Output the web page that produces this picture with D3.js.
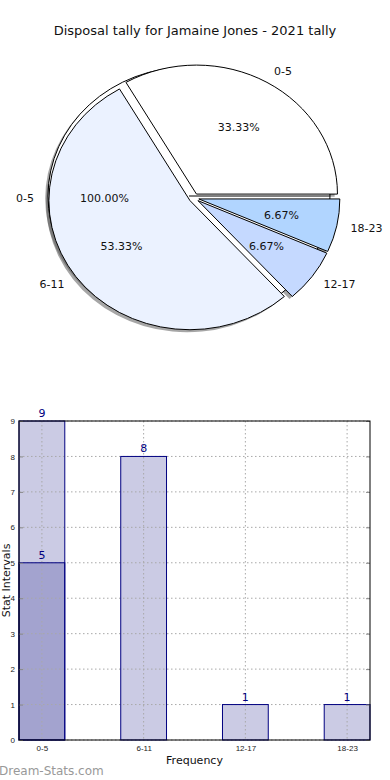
<!DOCTYPE html>
<html><head><meta charset="utf-8">
<script src="https://cdn.jsdelivr.net/npm/d3@7"></script>
<style>body{margin:0;background:#fff}svg{display:block;font-family:"DejaVu Sans",sans-serif}</style>
</head><body><div id="c"></div>
<script>
// ---- data ----
const title = "Disposal tally for Jamaine Jones - 2021 tally";
const fullLabels = ["0-5"];
const fullValues = [1];
const fullPctText = ["100.00%"];
const pieLabels = ["0-5", "6-11", "12-17", "18-23"];
const pieValues = [5, 8, 1, 1];
const piePctText = ["33.33%", "53.33%", "6.67%", "6.67%"];
const barCategories = ["0-5", "6-11", "12-17", "18-23"];
const barValues = [9, 8, 1, 1];
const barOverlayCategories = ["0-5"];
const barOverlayValues = [5];
const yTicks = [0,1,2,3,4,5,6,7,8,9];

// ---- style ----
const W = 390, H = 780;
const pieColors = ["#ffffff", "#ebf2ff", "#c5d9ff", "#b1d5ff"];
const fullColors = ["#ffffff"];
const rx = 141, ry = 129;
const explode = 0.035;

const svg = d3.select("#c").append("svg").attr("width", W).attr("height", H);

svg.append("text").attr("x", 195).attr("y", 35).attr("text-anchor", "middle")
  .attr("font-size", 13).attr("fill", "#111").text(title);

const arcUnit = d3.arc().innerRadius(0).outerRadius(1);
function makePie(values) {
  return d3.pie().sort(null).startAngle(Math.PI/2).endAngle(Math.PI/2 - 2*Math.PI)(values);
}
function center(base, d, e) {
  const mid = (d.startAngle + d.endAngle)/2;
  return [base[0] + e*rx*Math.sin(mid), base[1] - e*ry*Math.cos(mid)];
}

const fullBase = [189, 196];
const mainBase = [194, 198];
const fullArcs = makePie(fullValues).map(d => ({d, c: fullBase, fill: fullColors[d.index], label: fullLabels[d.index], pct: fullPctText[d.index]}));
const mainArcs = makePie(pieValues).map(d => ({d, c: center(mainBase, d, explode), fill: pieColors[d.index], label: pieLabels[d.index], pct: piePctText[d.index]}));
const all = fullArcs.concat(mainArcs);

const pieG = svg.append("g");
// shadows (lower z-order)
pieG.selectAll("path.sh").data(all).join("path").attr("class","sh")
  .attr("d", a => arcUnit(a.d))
  .attr("transform", a => `translate(${a.c[0]-2.8},${a.c[1]+2.6}) scale(${rx},${ry})`)
  .attr("fill", "rgb(77,77,77)").attr("fill-opacity", 0.5);
// full-circle wedge
fullArcs.forEach(a => {
  pieG.append("path").attr("d", arcUnit(a.d))
    .attr("transform", `translate(${a.c[0]},${a.c[1]}) scale(${rx},${ry})`)
    .attr("fill", a.fill).attr("stroke", "#000").attr("stroke-width", 1)
    .attr("vector-effect", "non-scaling-stroke");
  pieG.append("line").attr("x1", a.c[0]).attr("y1", a.c[1]).attr("x2", a.c[0]+rx).attr("y2", a.c[1])
    .attr("stroke", "#000").attr("stroke-width", 1);
});
// main wedges
mainArcs.forEach(a => {
  pieG.append("path").attr("d", arcUnit(a.d))
    .attr("transform", `translate(${a.c[0]},${a.c[1]}) scale(${rx},${ry})`)
    .attr("fill", a.fill).attr("stroke", "#000").attr("stroke-width", 1)
    .attr("vector-effect", "non-scaling-stroke");
});
// labels
all.forEach((a, i) => {
  const mid = (a.d.startAngle + a.d.endAngle)/2;
  const sx = Math.sin(mid), cy = -Math.cos(mid);
  const isFull = i < fullArcs.length;
  const yAdj = isFull ? 2 : 0;
  const lx = a.c[0] + 1.1*rx*sx, ly = a.c[1] + 1.1*ry*cy + yAdj;
  svg.append("text").attr("x", lx).attr("y", ly).attr("dy", "0.35em")
    .attr("text-anchor", sx > 0.001 ? "start" : (sx < -0.001 ? "end" : "middle"))
    .attr("font-size", 11).attr("fill", "#111").text(a.label);
  svg.append("text").attr("x", a.c[0] + 0.6*rx*sx).attr("y", a.c[1] + 0.6*ry*cy + yAdj).attr("dy", "0.35em")
    .attr("text-anchor", "middle").attr("font-size", 11).attr("fill", "#111").text(a.pct);
});

// ---- bar chart ----
const L = 19, R = 370, T = 421, B = 740;
const x = d3.scaleLinear().domain([-0.225, barCategories.length - 1 + 0.225]).range([L, R]);
const y = d3.scaleLinear().domain([0, 9]).range([B, T]);
const bw = 0.45;
const g = svg.append("g");

const mainIdx = barValues.map((v, i) => i);
const ovIdx = barOverlayCategories.map(c => barCategories.indexOf(c));

// bar fills
g.selectAll("rect.b").data(barValues).join("rect").attr("class","b")
  .attr("x", (d,i) => x(mainIdx[i] - bw/2)).attr("width", x(bw) - x(0))
  .attr("y", d => y(d)).attr("height", d => B - y(d))
  .attr("fill", "#cbcbe4");
g.selectAll("rect.o").data(barOverlayValues).join("rect").attr("class","o")
  .attr("x", (d,i) => x(ovIdx[i] - bw/2)).attr("width", x(bw) - x(0))
  .attr("y", d => y(d)).attr("height", d => B - y(d))
  .attr("fill", "#a3a3cf");

// grid (dotted, over bar fills)
g.selectAll("line.gx").data(barCategories).join("line").attr("class","gx")
  .attr("x1", (d,i) => x(i)).attr("x2", (d,i) => x(i)).attr("y1", T).attr("y2", B)
  .attr("stroke", "#a8a8a8").attr("stroke-width", 1).attr("stroke-dasharray", "1.5,2.5");
g.selectAll("line.gy").data(yTicks).join("line").attr("class","gy")
  .attr("x1", L).attr("x2", R).attr("y1", d => y(d)).attr("y2", d => y(d))
  .attr("stroke", "#a8a8a8").attr("stroke-width", 1).attr("stroke-dasharray", "1.5,2.5");

// bar outlines
g.selectAll("rect.bo").data(barValues).join("rect").attr("class","bo")
  .attr("x", (d,i) => x(mainIdx[i] - bw/2)).attr("width", x(bw) - x(0))
  .attr("y", d => y(d)).attr("height", d => B - y(d))
  .attr("fill", "none").attr("stroke", "#000080").attr("stroke-width", 1);
g.selectAll("rect.oo").data(barOverlayValues).join("rect").attr("class","oo")
  .attr("x", (d,i) => x(ovIdx[i] - bw/2)).attr("width", x(bw) - x(0))
  .attr("y", d => y(d)).attr("height", d => B - y(d))
  .attr("fill", "none").attr("stroke", "#000080").attr("stroke-width", 1);

// value labels
barValues.forEach((v, i) => {
  g.append("text").attr("x", x(mainIdx[i])).attr("y", y(v) - 4).attr("text-anchor", "middle")
    .attr("font-size", 11).attr("fill", "#000080").text(v);
});
barOverlayValues.forEach((v, i) => {
  g.append("text").attr("x", x(ovIdx[i])).attr("y", y(v) - 4).attr("text-anchor", "middle")
    .attr("font-size", 11).attr("fill", "#000080").text(v);
});

// axes
const yAxis = d3.axisLeft(y).tickValues(yTicks).tickSize(4).tickFormat(d3.format("d"));
const ya = g.append("g").attr("transform", `translate(${L},0)`).call(yAxis);
ya.select(".domain").remove();
ya.selectAll(".tick line").attr("x2", 4).attr("stroke", "#888");
ya.selectAll("text").attr("x", -4).attr("font-size", 8).attr("fill", "#222");
const yAxisR = d3.axisRight(y).tickValues(yTicks).tickSize(0).tickFormat("");
const yr = g.append("g").attr("transform", `translate(${R},0)`).call(yAxisR);
yr.select(".domain").remove();
yr.selectAll(".tick line").attr("x1", -4).attr("x2", 0).attr("stroke", "#888");
const xAxis = d3.axisBottom(x).tickValues(d3.range(barCategories.length)).tickSize(0).tickFormat(i => barCategories[i]);
const xa = g.append("g").attr("transform", `translate(0,${B})`).call(xAxis);
xa.select(".domain").remove();
xa.selectAll("text").attr("dy", null).attr("y", 11).attr("font-size", 8).attr("fill", "#222");

g.append("rect").attr("x", L).attr("y", T).attr("width", R - L).attr("height", B - T)
  .attr("fill", "none").attr("stroke", "#000").attr("stroke-width", 1);

svg.append("text").attr("x", (L+R)/2).attr("y", 764).attr("text-anchor", "middle")
  .attr("font-size", 11).attr("fill", "#111").text("Frequency");
svg.append("text").attr("transform", `translate(10,${(T+B)/2}) rotate(-90)`).attr("text-anchor", "middle")
  .attr("font-size", 11).attr("fill", "#111").text("Stat Intervals");
svg.append("text").attr("x", -1).attr("y", 775).attr("font-size", 12)
  .attr("fill", "#999").text("Dream-Stats.com");
</script></body></html>
